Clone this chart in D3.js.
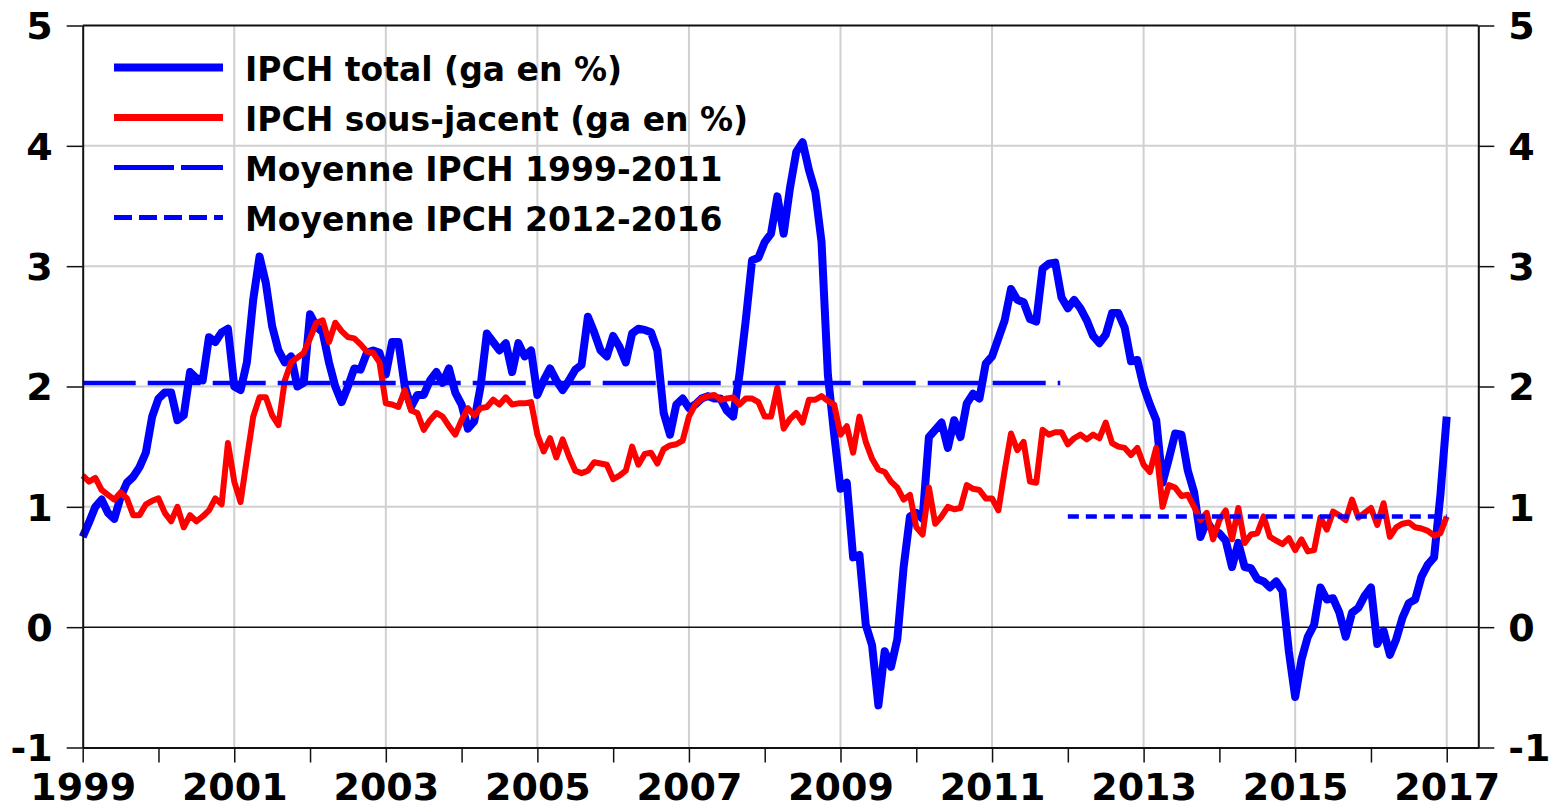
<!DOCTYPE html>
<html>
<head>
<meta charset="utf-8">
<script src="https://cdn.jsdelivr.net/npm/d3@7"></script>
<style>
  body { margin: 0; background: #fff; }
  svg { display: block; font-family: "DejaVu Sans", Verdana, sans-serif; font-weight: bold; }
</style>
</head>
<body>
<div id="chart"></div>
<script>
// Data (monthly, Jan 1999 -> Jan 2017) //////////////////////////
const startYear = 1999;
const ipchTotal = [
  0.75, 0.87, 1.0, 1.06, 0.95, 0.9, 1.08, 1.2, 1.25, 1.33, 1.45, 1.75, // 1999
  1.9, 1.95, 1.95, 1.72, 1.76, 2.12, 2.07, 2.05, 2.41, 2.37, 2.45, 2.48, // 2000
  2.0, 1.97, 2.2, 2.72, 3.08, 2.86, 2.5, 2.3, 2.2, 2.25, 2.0, 2.03, // 2001
  2.6, 2.5, 2.45, 2.2, 2.0, 1.87, 2.0, 2.15, 2.14, 2.28, 2.3, 2.28, // 2002
  2.1, 2.37, 2.37, 2.0, 1.83, 1.93, 1.93, 2.05, 2.12, 2.03, 2.15, 1.95, // 2003
  1.85, 1.65, 1.71, 2.0, 2.44, 2.37, 2.3, 2.36, 2.12, 2.36, 2.25, 2.3, // 2004
  1.93, 2.05, 2.15, 2.05, 1.97, 2.05, 2.14, 2.18, 2.58, 2.45, 2.3, 2.25, // 2005
  2.42, 2.33, 2.2, 2.44, 2.48, 2.47, 2.45, 2.3, 1.78, 1.6, 1.85, 1.9, // 2006
  1.82, 1.85, 1.9, 1.92, 1.9, 1.9, 1.8, 1.75, 2.1, 2.55, 3.05, 3.07, // 2007
  3.2, 3.27, 3.58, 3.27, 3.65, 3.95, 4.03, 3.8, 3.62, 3.2, 2.1, 1.6, // 2008
  1.15, 1.2, 0.58, 0.6, 0.02, -0.15, -0.65, -0.2, -0.33, -0.1, 0.5, 0.92, // 2009
  0.95, 0.9, 1.58, 1.64, 1.7, 1.49, 1.72, 1.58, 1.86, 1.94, 1.9, 2.19, // 2010
  2.25, 2.4, 2.55, 2.81, 2.72, 2.7, 2.56, 2.54, 2.98, 3.02, 3.03, 2.74, // 2011
  2.65, 2.72, 2.65, 2.55, 2.42, 2.36, 2.43, 2.61, 2.61, 2.49, 2.21, 2.22, // 2012
  2.0, 1.85, 1.72, 1.2, 1.4, 1.61, 1.6, 1.3, 1.12, 0.75, 0.88, 0.8, // 2013
  0.78, 0.72, 0.5, 0.7, 0.5, 0.49, 0.4, 0.38, 0.33, 0.38, 0.3, -0.2, // 2014
  -0.58, -0.27, -0.08, 0.02, 0.33, 0.23, 0.24, 0.12, -0.08, 0.12, 0.16, 0.26, // 2015
  0.33, -0.14, -0.03, -0.23, -0.1, 0.08, 0.2, 0.23, 0.42, 0.52, 0.58, 1.1, // 2016
  1.75 // 2017
];
const ipchCore = [
  1.26, 1.21, 1.24, 1.14, 1.1, 1.06, 1.12, 1.07, 0.93, 0.93, 1.02, 1.05, // 1999
  1.07, 0.95, 0.88, 1.0, 0.83, 0.93, 0.88, 0.92, 0.97, 1.07, 1.02, 1.53, // 2000
  1.21, 1.04, 1.4, 1.75, 1.91, 1.91, 1.76, 1.68, 2.05, 2.2, 2.24, 2.28, // 2001
  2.4, 2.53, 2.55, 2.37, 2.53, 2.46, 2.41, 2.4, 2.35, 2.29, 2.28, 2.2, // 2002
  1.86, 1.85, 1.83, 1.97, 1.8, 1.78, 1.64, 1.72, 1.78, 1.75, 1.67, 1.6, // 2003
  1.72, 1.82, 1.76, 1.82, 1.83, 1.89, 1.85, 1.91, 1.85, 1.86, 1.86, 1.87, // 2004
  1.6, 1.46, 1.57, 1.41, 1.56, 1.42, 1.3, 1.28, 1.3, 1.37, 1.36, 1.35, // 2005
  1.23, 1.26, 1.3, 1.5, 1.35, 1.44, 1.45, 1.36, 1.48, 1.51, 1.52, 1.55, // 2006
  1.75, 1.85, 1.9, 1.92, 1.93, 1.89, 1.9, 1.91, 1.85, 1.9, 1.9, 1.87, // 2007
  1.75, 1.75, 1.99, 1.65, 1.73, 1.78, 1.7, 1.89, 1.89, 1.92, 1.88, 1.85, // 2008
  1.6, 1.67, 1.45, 1.75, 1.54, 1.4, 1.31, 1.29, 1.21, 1.16, 1.06, 1.1, // 2009
  0.83, 0.77, 1.16, 0.86, 0.92, 1.0, 0.98, 0.99, 1.18, 1.15, 1.14, 1.07, // 2010
  1.07, 0.97, 1.3, 1.61, 1.47, 1.54, 1.21, 1.2, 1.64, 1.6, 1.62, 1.62, // 2011
  1.52, 1.57, 1.6, 1.56, 1.6, 1.57, 1.7, 1.53, 1.5, 1.49, 1.43, 1.49, // 2012
  1.35, 1.29, 1.49, 1.0, 1.18, 1.16, 1.09, 1.1, 1.0, 0.89, 0.95, 0.73, // 2013
  0.89, 0.97, 0.73, 0.99, 0.7, 0.77, 0.78, 0.92, 0.75, 0.72, 0.69, 0.74, // 2014
  0.64, 0.73, 0.63, 0.64, 0.91, 0.81, 0.96, 0.93, 0.89, 1.06, 0.91, 0.95, // 2015
  0.99, 0.85, 1.03, 0.75, 0.83, 0.86, 0.87, 0.83, 0.82, 0.8, 0.76, 0.78, // 2016
  0.92 // 2017
];
// averages: [from, to] in years, and level
const meanPeriods = [[1999, 2011.9], [2012, 2017]];
const meanValues = [2.03, 0.92];
const legendLabels = [
  "IPCH total (ga en %)",
  "IPCH sous-jacent (ga en %)",
  "Moyenne IPCH 1999-2011",
  "Moyenne IPCH 2012-2016"
];
const yTicks = [-1, 0, 1, 2, 3, 4, 5];
const xTicks = d3.range(1999, 2018);

// Setup /////////////////////////////////////////
const width = 1554;
const height = 809;
const plotLeft = 82.7, plotRight = 1478.3, plotTop = 25.5, plotBottom = 747.5;

const svg = d3.select("#chart").append("svg")
  .attr("width", width)
  .attr("height", height);

const x = d3.scaleLinear()
  .domain([startYear, startYear + 221 / 12])
  .range([plotLeft, plotRight]);
const y = d3.scaleLinear()
  .domain([-1, 5])
  .range([plotBottom, plotTop]);

// Grid //////////////////////////////////////////
const grid = svg.append("g");
grid.selectAll(".vgrid")
  .data(xTicks.filter(d => d % 2 === 1 && d > startYear))
  .enter().append("line")
  .attr("x1", d => x(d)).attr("x2", d => x(d))
  .attr("y1", plotTop).attr("y2", plotBottom)
  .attr("stroke", "#d0d0d0").attr("stroke-width", 2);
grid.selectAll(".hgrid")
  .data(yTicks.filter(d => d > -1 && d < 5 && d !== 0))
  .enter().append("line")
  .attr("x1", plotLeft).attr("x2", plotRight)
  .attr("y1", d => y(d)).attr("y2", d => y(d))
  .attr("stroke", "#d0d0d0").attr("stroke-width", 2);
grid.append("line")
  .attr("x1", plotLeft).attr("x2", plotRight)
  .attr("y1", y(0)).attr("y2", y(0))
  .attr("stroke", "#111").attr("stroke-width", 1.5);
grid.append("line")
  .attr("x1", plotLeft).attr("x2", plotRight)
  .attr("y1", plotTop).attr("y2", plotTop)
  .attr("stroke", "#111").attr("stroke-width", 2);

// Series ////////////////////////////////////////
const line = d3.line()
  .x((d, i) => x(startYear + i / 12))
  .y(d => y(d));

svg.append("path")
  .datum(ipchTotal)
  .attr("d", line)
  .attr("fill", "none")
  .attr("stroke", "#0000ff")
  .attr("stroke-width", 8)
  .attr("stroke-linejoin", "round");

svg.append("path")
  .datum(ipchCore)
  .attr("d", line)
  .attr("fill", "none")
  .attr("stroke", "#ff0000")
  .attr("stroke-width", 6)
  .attr("stroke-linejoin", "round");

const meanDash = ["53,12", "11,7"];
meanPeriods.forEach((p, k) => {
  svg.append("line")
    .attr("x1", x(p[0])).attr("x2", x(p[1]))
    .attr("y1", y(meanValues[k])).attr("y2", y(meanValues[k]))
    .attr("stroke", "#0000ff")
    .attr("stroke-width", 4.5)
    .attr("stroke-dasharray", meanDash[k]);
});

// Axes //////////////////////////////////////////
const styleAxis = g => {
  g.select(".domain").attr("stroke", "#111").attr("stroke-width", 2);
  g.selectAll(".tick line").attr("stroke", "#111").attr("stroke-width", 1.5);
  g.selectAll("text")
    .attr("fill", "#000")
    .style("font-family", "'DejaVu Sans', Verdana, sans-serif")
    .style("font-weight", "bold")
    .style("font-size", "38px");
};

const xAxis = svg.append("g")
  .attr("transform", `translate(0,${plotBottom})`)
  .call(d3.axisBottom(x).tickValues(xTicks).tickSize(15).tickSizeOuter(0)
    .tickFormat(d => (d % 2 === 1 ? d : "")))
  .call(styleAxis);
xAxis.selectAll("text").attr("y", 52.5).attr("dy", 0);

const yLeft = svg.append("g")
  .attr("transform", `translate(${plotLeft},0)`)
  .call(d3.axisLeft(y).tickValues(yTicks).tickSize(16).tickSizeOuter(0).tickFormat(d => String(d)))
  .call(styleAxis);
yLeft.selectAll("text").attr("x", -30).attr("dy", "0.35em");

const yRight = svg.append("g")
  .attr("transform", `translate(${plotRight},0)`)
  .call(d3.axisRight(y).tickValues(yTicks).tickSize(16).tickSizeOuter(0).tickFormat(d => String(d)))
  .call(styleAxis);
yRight.selectAll("text").attr("x", 30).attr("dy", "0.35em");

// Legend ////////////////////////////////////////
const legendStyles = [
  { color: "#0000ff", width: 8, dash: null },
  { color: "#ff0000", width: 7, dash: null },
  { color: "#0000ff", width: 5, dash: "60,7" },
  { color: "#0000ff", width: 5, dash: "18,7" }
];
const legend = svg.append("g");
legendLabels.forEach((label, k) => {
  const ly = 67.5 + k * 50;
  const s = legendStyles[k];
  legend.append("line")
    .attr("x1", 114).attr("x2", 223)
    .attr("y1", ly).attr("y2", ly)
    .attr("stroke", s.color)
    .attr("stroke-width", s.width)
    .attr("stroke-dasharray", s.dash);
  legend.append("text")
    .attr("x", 245).attr("y", ly + 13)
    .attr("font-size", 33)
    .attr("fill", "#000")
    .text(label);
});
</script>
</body>
</html>
